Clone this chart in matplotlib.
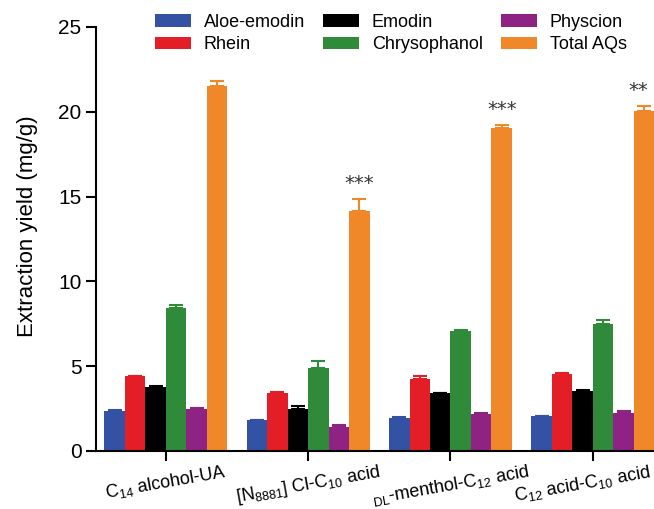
import numpy as np
import matplotlib.pyplot as plt
from matplotlib.transforms import ScaledTranslation

plt.rcParams['font.family'] = ['Liberation Sans', 'DejaVu Sans']
plt.rcParams['mathtext.default'] = 'regular'

groups = [r"C$_{14}$ alcohol-UA", r"[N$_{8881}$] Cl-C$_{10}$ acid",
          r"$_{DL}$-menthol-C$_{12}$ acid", r"C$_{12}$ acid-C$_{10}$ acid"]
series = ["Aloe-emodin", "Rhein", "Emodin", "Chrysophanol", "Physcion", "Total AQs"]
colors = ["#3452a4", "#e41e26", "#000000", "#2f8a3a", "#8e2384", "#f0882a"]

aloe = [2.35, 1.8, 1.95, 2.05]
rhein = [4.4, 3.4, 4.25, 4.55]
emodin = [3.75, 2.5, 3.4, 3.55]
chrys = [8.45, 4.9, 7.1, 7.5]
physcion = [2.5, 1.4, 2.2, 2.25]
total = [21.5, 14.15, 19.05, 20.05]

aloe_err = [0.05, 0.05, 0.03, 0.03]
rhein_err = [0.05, 0.1, 0.2, 0.05]
emodin_err = [0.08, 0.18, 0.03, 0.05]
chrys_err = [0.15, 0.4, 0.05, 0.2]
physcion_err = [0.05, 0.15, 0.05, 0.08]
total_err = [0.3, 0.7, 0.15, 0.3]

stars = ["", "***", "***", "**"]

values = [aloe, rhein, emodin, chrys, physcion, total]
errors = [aloe_err, rhein_err, emodin_err, chrys_err, physcion_err, total_err]

fig = plt.figure(figsize=(6.54, 5.09), dpi=100)
ax = fig.add_axes([0.147, 0.114, 0.853, 0.833])

x = np.arange(len(groups))
w = 0.144
for i, (name, vals, err, c) in enumerate(zip(series, values, errors, colors)):
    pos = x + (i - 2.5) * w
    ax.bar(pos, vals, width=w, color=c, label=name, zorder=2)
    ax.errorbar(pos, vals, yerr=[np.zeros(len(vals)), err], fmt='none',
                ecolor=c, elinewidth=1.5, capsize=5, capthick=1.5, zorder=1)

# significance marks above Total AQs
for j, s in enumerate(stars):
    if s:
        xp = x[j] + 2.5 * w
        if j == len(stars) - 1:
            xp -= 0.04
        ax.text(xp, total[j] + total_err[j] + 0.35, s, ha='center', va='bottom',
                fontsize=14, color='#333333', family='DejaVu Sans')

ax.set_xlim(-0.49, 3.43)
ax.set_ylim(0, 25)
ax.set_yticks([0, 5, 10, 15, 20, 25])
ax.set_xticks(x)
ax.set_xticklabels(groups, rotation=10, fontsize=13, ha='center')
ax.tick_params(axis='y', labelsize=15, width=1.5, length=7)
ax.tick_params(axis='x', width=1.5, length=7, pad=1)
# nudge the last label left so it stays inside the figure
last = ax.get_xticklabels()[-1]
last.set_transform(last.get_transform() + ScaledTranslation(-0.1, 0, fig.dpi_scale_trans))

ax.set_ylabel("Extraction yield (mg/g)", fontsize=16)
ax.yaxis.set_label_coords(-0.105, 0.53)
ax.spines['top'].set_visible(False)
ax.spines['right'].set_visible(False)
ax.spines['left'].set_linewidth(1.5)
ax.spines['bottom'].set_linewidth(1.5)

handles, labels = ax.get_legend_handles_labels()
fig.legend(handles, labels, ncol=3, loc='upper left',
           bbox_to_anchor=(155 / 654, 1 - 14 / 509), frameon=False,
           fontsize=13, handlelength=2.0, handleheight=0.7, columnspacing=1.0,
           labelspacing=0.3, handletextpad=0.7, borderpad=0, borderaxespad=0)

fig.savefig("out.png", dpi=100)
